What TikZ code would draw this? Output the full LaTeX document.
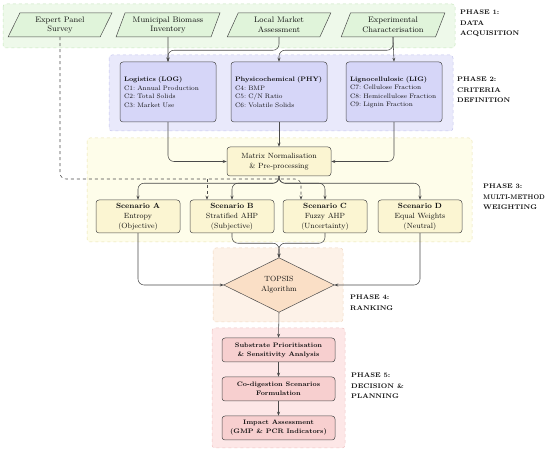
\documentclass[tikz,border=0pt]{standalone}
\usetikzlibrary{shapes.geometric,arrows.meta}
\definecolor{bgA}{HTML}{EEF9EA}\definecolor{bdA}{HTML}{C6E6BC}\definecolor{fA}{HTML}{E0F4DA}
\definecolor{bgB}{HTML}{E9E9FB}\definecolor{bdB}{HTML}{C4C4EE}\definecolor{fB}{HTML}{D6D6F8}
\definecolor{bgC}{HTML}{FEFDEA}\definecolor{bdC}{HTML}{EAE2AE}\definecolor{fC}{HTML}{FBF5D2}
\definecolor{bgD}{HTML}{FDF2E8}\definecolor{bdD}{HTML}{F0D6BE}\definecolor{fD}{HTML}{FADFC6}
\definecolor{bgE}{HTML}{FDE7E7}\definecolor{bdE}{HTML}{F0C4C4}\definecolor{fE}{HTML}{F7CFCF}
\definecolor{ln}{HTML}{4A4A4A}
\definecolor{tx}{HTML}{111111}
\begin{document}
\begin{tikzpicture}[x=1pt,y=-1pt,
  phasebg/.style={draw=#1,dashed,line width=0.5pt,rounded corners=3pt},
  para/.style={trapezium,trapezium left angle=68,trapezium right angle=112,trapezium stretches=true,
     draw=ln,fill=fA,line width=0.5pt,minimum width=104pt,minimum height=24pt,inner sep=1pt,
     align=center,font=\fontsize{8}{9.5}\selectfont,text=tx},
  crit/.style={draw=ln,fill=fB,rounded corners=3pt,line width=0.5pt,minimum width=96pt,minimum height=60pt,
     text width=88pt,align=left,inner sep=0pt,font=\fontsize{6.5}{8.5}\selectfont,text=tx},
  proc/.style={draw=ln,fill=#1,rounded corners=3pt,line width=0.5pt,align=center,inner sep=1pt,text=tx},
  phlab/.style={anchor=north west,align=left,font=\fontsize{6.7}{10.5}\selectfont\bfseries,text=tx,inner sep=0pt},
  arr/.style={draw=ln,line width=0.55pt,rounded corners=6pt,-{Stealth[length=4pt,width=3pt]}}
]
\useasboundingbox (0,0) rectangle (550,454);
% phase backgrounds
\draw[phasebg=bdA,fill=bgA] (3,4) rectangle (455,48);
\draw[phasebg=bdB,fill=bgB] (109,55) rectangle (453,131);
\draw[phasebg=bdC,fill=bgC] (87,138) rectangle (472,242);
\draw[phasebg=bdD,fill=bgD] (213,248) rectangle (343,322);
\draw[phasebg=bdE,fill=bgE] (212,328) rectangle (345,448);
% phase labels
\node[phlab] (l1) at (460,10) {PHASE 1:\\DATA\\ACQUISITION};
\node[phlab] (l2) at (457,77) {PHASE 2:\\CRITERIA\\DEFINITION};
\node[phlab] (l3) at (483,184) {PHASE 3:\\\scalebox{0.87}[1]{MULTI-METHOD}\\WEIGHTING};
\node[phlab] (l4) at (350,295) {PHASE 4:\\RANKING};
\node[phlab] (l5) at (351,373) {PHASE 5:\\DECISION \&\\PLANNING};
% phase 1
\node[para] (exp) at (60,25) {Expert Panel\\Survey};
\node[para] (mun) at (168,25) {Municipal Biomass\\Inventory};
\node[para] (loc) at (279,25) {Local Market\\Assessment};
\node[para] (xch) at (393,25) {Experimental\\Characterisation};
% phase 2
\node[crit] (log) at (168,92) {\textbf{Logistics (LOG)}\\C1:\ Annual Production\\C2:\ Total Solids\\C3:\ Market Use};
\node[crit] (phy) at (279,92) {\textbf{Physicochemical (PHY)}\\C4:\ BMP\\C5:\ C/N Ratio\\C6:\ Volatile Solids};
\node[crit] (lig) at (394,92) {\textbf{Lignocellulosic (LIG)}\\C7:\ Cellulose Fraction\\C8:\ Hemicellulose Fraction\\C9:\ Lignin Fraction};
% phase 3
\node[proc=fC,minimum width=104pt,minimum height=29pt,font=\fontsize{7.5}{10}\selectfont] (mat) at (279,161.5) {Matrix Normalisation\\\& Pre-processing};
\tikzset{scen/.style={proc=fC,minimum width=84pt,minimum height=33pt,font=\fontsize{7.5}{10}\selectfont}}
\node[scen] (scA) at (138,216.5) {\textbf{Scenario A}\\Entropy\\(Objective)};
\node[scen] (scB) at (232,216.5) {\textbf{Scenario B}\\Stratified AHP\\(Subjective)};
\node[scen] (scC) at (325,216.5) {\textbf{Scenario C}\\Fuzzy AHP\\(Uncertainty)};
\node[scen] (scD) at (420,216.5) {\textbf{Scenario D}\\Equal Weights\\(Neutral)};
% phase 4
\coordinate (topc) at (279,285);
\node[minimum width=110pt,minimum height=54pt,inner sep=0pt] (top) at (topc) {};
\draw[draw=ln,fill=fD,line width=0.5pt] (top.west) -- (top.north) -- (top.east) -- (top.south) -- cycle;
\node[align=center,font=\fontsize{7.5}{10}\selectfont,text=tx] (toplab) at (topc) {TOPSIS\\Algorithm};
% phase 5
\tikzset{dec/.style={proc=fE,minimum width=113pt,minimum height=24pt,font=\fontsize{6.5}{9}\selectfont\bfseries}}
\node[dec] (sub) at (278.5,350) {Substrate Prioritisation\\\& Sensitivity Analysis};
\node[dec] (cod) at (278.5,389) {Co-digestion Scenarios\\Formulation};
\node[dec] (imp) at (278.5,428) {Impact Assessment\\(GMP \& PCR Indicators)};
% connectors phase 1 -> 2
\draw[arr] (mun.south) -- (log.north);
\draw[arr] (loc.south) -- ++(0,13) -| (log.north);
\draw[arr] (xch.south) -- ++(0,13) -| (phy.north);
\draw[arr] (xch.south) -- (lig.north);
% phase 2 -> matrix
\draw[arr] (log.south) |- (mat.west);
\draw[arr] (phy.south) -- (mat.north);
\draw[arr] (lig.south) |- (mat.east);
% matrix -> scenarios
\draw[arr] (mat.south) -- ++(0,7) -| (scA.north);
\draw[arr] (mat.south) -- ++(0,7) -| (scB.north);
\draw[arr] (mat.south) -- ++(0,7) -| (scC.north);
\draw[arr] (mat.south) -- ++(0,7) -| (scD.north);
% expert dashed
\coordinate (dC) at (301,179);
\coordinate (dB) at (207,179);
\draw[arr,dashed] (exp.south) |- (dC) -- (dC |- scC.north);
\draw[arr,dashed,rounded corners=0pt] (dB) -- (dB |- scB.north);
% scenarios -> topsis
\draw[arr] (scA.south) |- (top.west);
\draw[arr] (scD.south) |- (top.east);
\draw[arr] (scB.south) -- ++(0,10) -| (top.north);
\draw[arr] (scC.south) -- ++(0,10) -| (top.north);
% phase 5
\draw[arr] (top.south) -- (sub.north);
\draw[arr] (sub.south) -- (cod.north);
\draw[arr] (cod.south) -- (imp.north);
\end{tikzpicture}
\end{document}
